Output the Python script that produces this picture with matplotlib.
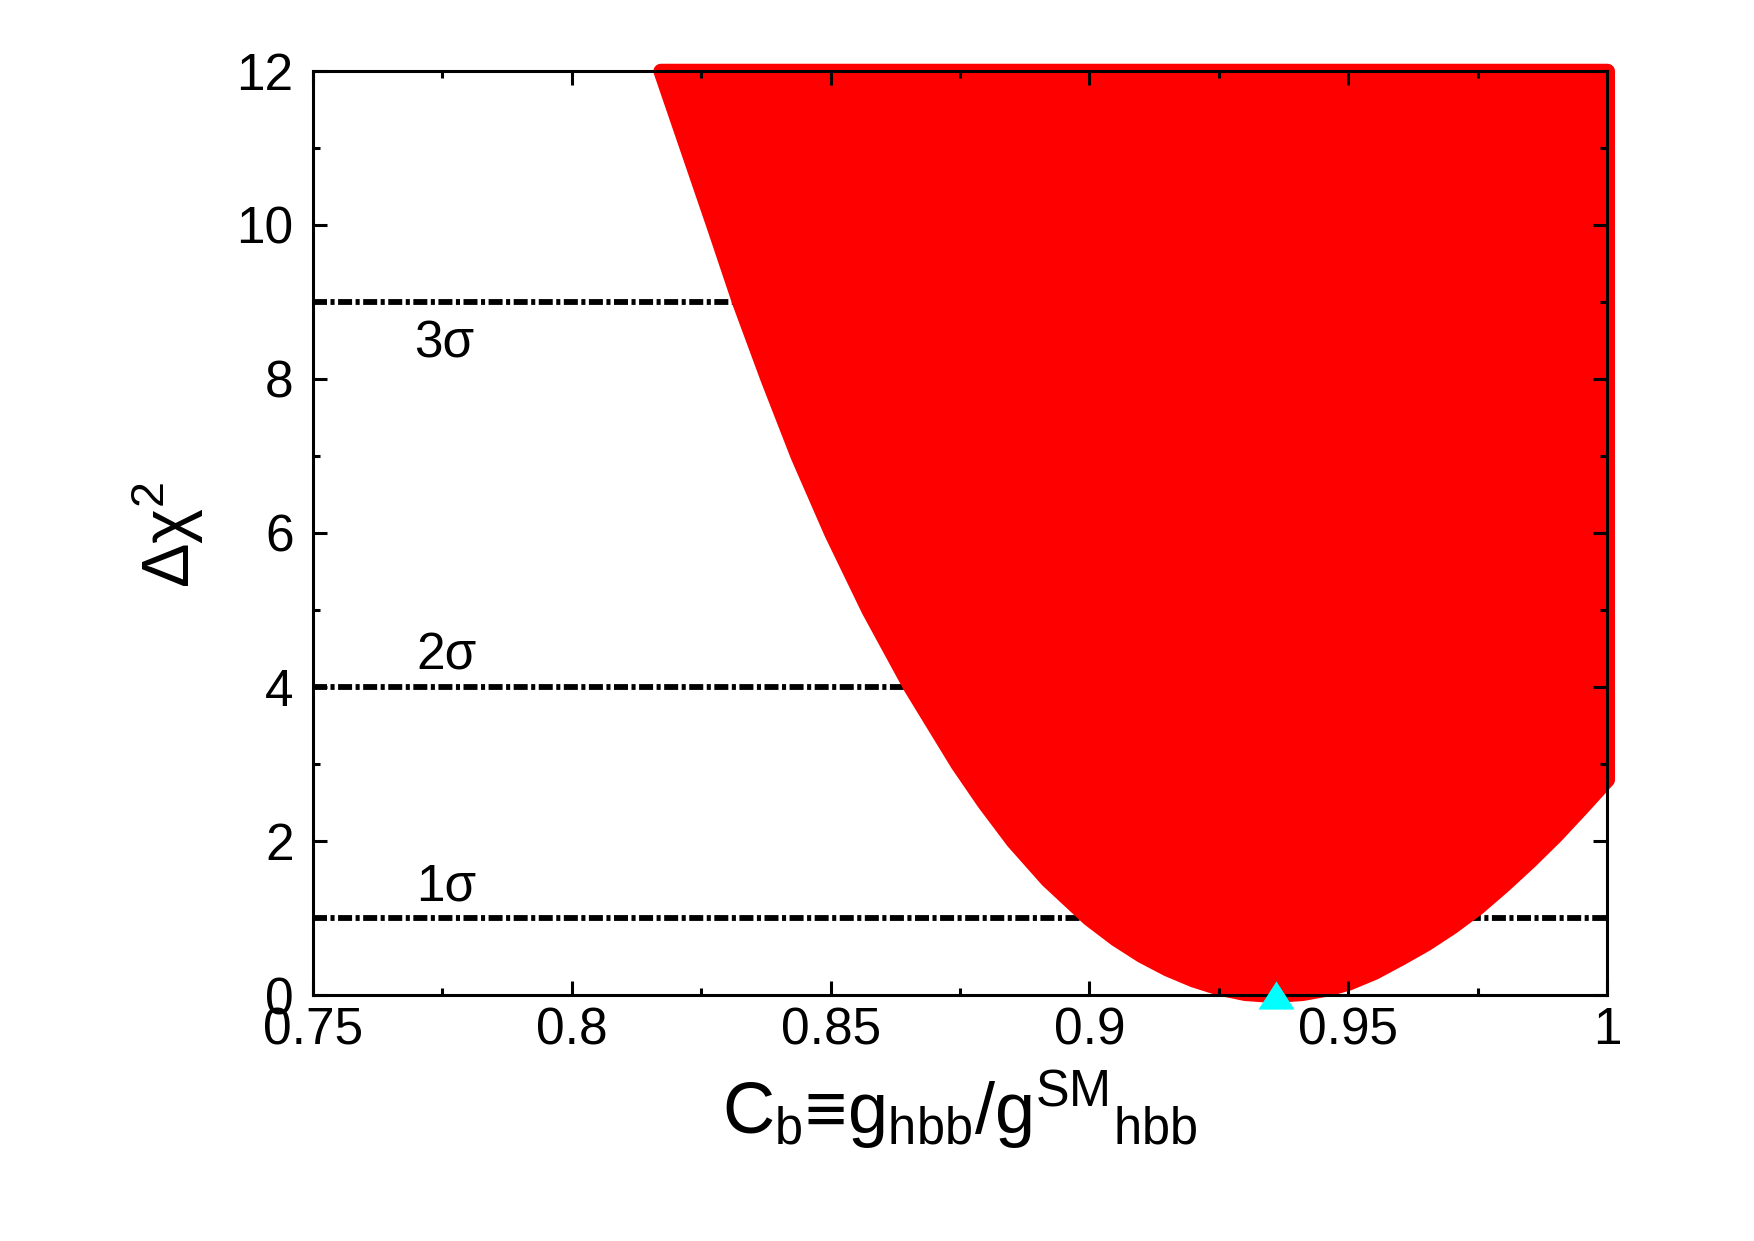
import matplotlib
matplotlib.use("Agg")
import matplotlib.pyplot as plt
from matplotlib.ticker import MultipleLocator, FixedLocator, FixedFormatter

plt.rcParams['font.family'] = ['Liberation Sans', 'DejaVu Sans']
plt.rcParams['mathtext.fontset'] = 'custom'
plt.rcParams['mathtext.rm'] = 'Liberation Sans'
plt.rcParams['mathtext.it'] = 'Liberation Sans'
plt.rcParams['mathtext.bf'] = 'Liberation Sans:bold'

# lower edge of the allowed (red) region (centres of the scan points)
cb = [0.8171, 0.8222, 0.8273, 0.8323, 0.8378, 0.8436, 0.8501, 0.8573, 0.8654,
      0.8745, 0.8796, 0.8852, 0.8918, 0.8998, 0.9050, 0.9100, 0.9150, 0.9200,
      0.9250, 0.9300, 0.9355, 0.9410, 0.9460, 0.9500, 0.9550, 0.9600, 0.9650,
      0.9700, 0.9750, 0.9800, 0.9850, 0.9900, 0.9950, 1.0000]
dchi2 = [12.0, 11.0, 10.0, 9.0, 8.0, 7.0, 6.0, 5.0, 4.0,
         3.0, 2.5, 2.0, 1.5, 1.0, 0.734, 0.519, 0.343, 0.202,
         0.095, 0.026, 0.0, 0.025, 0.085, 0.16, 0.30, 0.48, 0.67,
         0.89, 1.14, 1.43, 1.74, 2.07, 2.43, 2.80]
dchi2_top = 12.0

best_cb = [0.936]
best_dchi2 = [0.0]

sigma_levels = [1, 4, 9]
sigma_names = ['1σ', '2σ', '3σ']

xticks = [0.75, 0.8, 0.85, 0.9, 0.95, 1.0]
xtick_labels = ['0.75', '0.8', '0.85', '0.9', '0.95', '1']
yticks = [0, 2, 4, 6, 8, 10, 12]
ytick_labels = ['0', '2', '4', '6', '8', '10', '12']

fig = plt.figure(figsize=(17.54, 12.41), dpi=100)
ax = fig.add_axes([0.1785, 0.1982, 0.7377, 0.7448])
ax.set_axisbelow(False)

ax.hlines(sigma_levels, 0.75, 1.0, colors='black', linewidth=4.2,
          linestyles=[(0, (2.4, 0.6, 0.7, 0.6))], zorder=1)

ax.fill_between(cb, dchi2, dchi2_top, facecolor='#ff0000', edgecolor='#ff0000',
                linewidth=10.8, joinstyle='round', clip_on=False, zorder=2)

tri = [(-1, -0.78), (1, -0.78), (0, 0.78)]
ax.plot(best_cb, best_dchi2, linestyle='none', marker=tri, markersize=26,
        color='#00ffff', markeredgewidth=0, clip_on=False, zorder=4)

# sigma labels
ax.text(0.7696, 8.28, sigma_names[2], fontsize=37, va='baseline')
ax.text(0.7700, 4.23, sigma_names[1], fontsize=37, va='baseline')
ax.text(0.7700, 1.23, sigma_names[0], fontsize=37, va='baseline')

ax.set_xlim(0.75, 1.0)
ax.set_ylim(0, 12)
ax.xaxis.set_major_locator(FixedLocator(xticks))
ax.xaxis.set_major_formatter(FixedFormatter(xtick_labels))
ax.yaxis.set_major_locator(FixedLocator(yticks))
ax.yaxis.set_major_formatter(FixedFormatter(ytick_labels))
ax.xaxis.set_minor_locator(MultipleLocator(0.025))
ax.yaxis.set_minor_locator(MultipleLocator(1))

ax.tick_params(which='both', direction='in', top=True, right=True, width=2.2)
ax.tick_params(which='major', length=10)
ax.tick_params(which='minor', length=5)
ax.tick_params(axis='x', which='major', labelsize=37, pad=8)
ax.tick_params(axis='y', which='major', labelsize=37, pad=14)
for s in ax.spines.values():
    s.set_linewidth(2.2)

ax.set_xlabel('C$_{b}$≡g$_{hbb}$/g$^{SM}{}_{hbb}$', fontsize=52, va='baseline')
ax.xaxis.set_label_coords(0.500, -0.1493)
ax.set_ylabel('Δχ$^{2}$', fontsize=48, va='center')
ax.yaxis.set_label_coords(-0.112, 0.498)

fig.savefig('out.png', dpi=100)
